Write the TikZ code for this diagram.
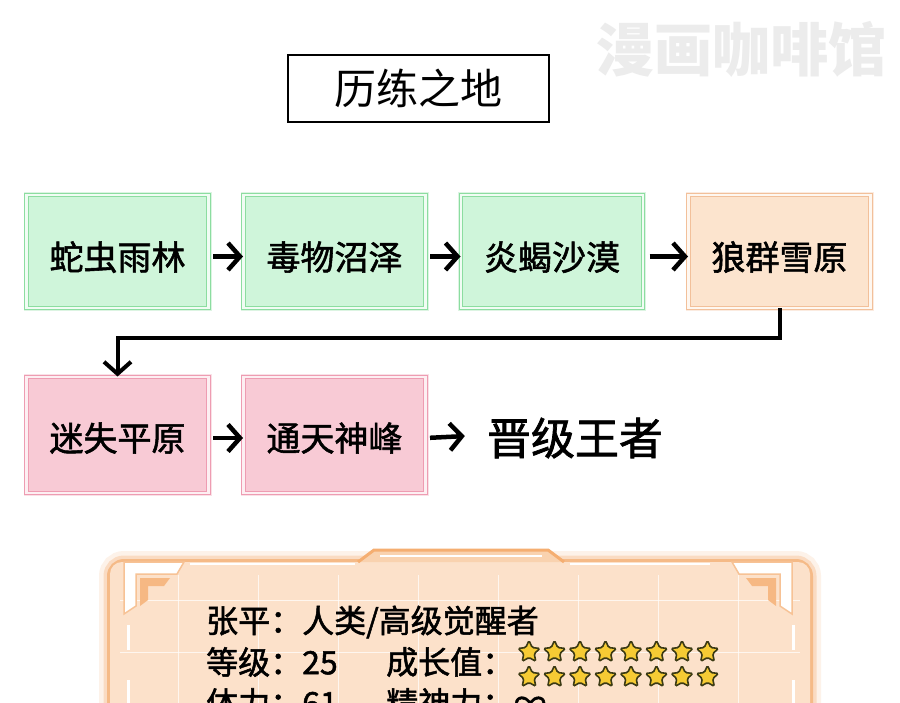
\documentclass[tikz,border=0pt]{standalone}
\usepackage{fontspec}
\setmainfont{Noto Sans CJK SC}
\newfontfamily\heavycjk[FakeBold=1.6]{Noto Sans CJK SC}
\usetikzlibrary{arrows.meta,shapes.geometric}
\definecolor{mintfill}{HTML}{CFF5DA}
\definecolor{mintline}{HTML}{8CDDA0}
\definecolor{peachfill}{HTML}{FCE4CE}
\definecolor{peachline}{HTML}{F2C09A}
\definecolor{rosefill}{HTML}{F8CAD5}
\definecolor{roseline}{HTML}{EE9CB2}
\definecolor{panelfill}{HTML}{FCE1CA}
\definecolor{panelglow}{HTML}{F29A4E}
\definecolor{starfill}{HTML}{F6CB34}
\definecolor{starline}{HTML}{3B3A14}
\definecolor{markgray}{HTML}{ECECEC}

\begin{document}
\begin{tikzpicture}[x=1pt, y=-1pt,
    stage/.style={minimum width=182pt, minimum height=113pt, line width=1pt,
                  double distance=2.5pt, inner sep=0pt, text height=41pt,
                  text depth=4pt, font=\fontsize{34}{40}\heavycjk},
    greenbox/.style={stage, fill=mintfill, draw=mintline, double=mintfill!30!white,
                     preaction={draw=mintline, line width=6pt, opacity=0.3}},
    orangebox/.style={stage, fill=peachfill, draw=peachline, double=peachfill!30!white,
                      preaction={draw=peachline, line width=6pt, opacity=0.3}},
    pinkbox/.style={stage, minimum height=116pt, text height=36pt, fill=rosefill,
                    draw=roseline, double=rosefill!30!white,
                    preaction={draw=roseline, line width=6pt, opacity=0.3}},
    arr/.style={-{Straight Barb[length=12pt, width=27pt]}, line width=4.5pt},
    paneltext/.style={anchor=west, inner sep=0pt, font=\fontsize{32}{36}\heavycjk},
    starmark/.style={star, star points=5, star point ratio=2.1, minimum size=23pt,
                     inner sep=0pt, fill=starfill, draw=starline, line width=1.6pt,
                     rounded corners=1.5pt}
  ]
  \fill[white] (0,0) rectangle (900,703);
  \useasboundingbox (0,0) rectangle (900,703);

  % Title and watermark
  \node[draw, line width=1.5pt, minimum width=261pt, minimum height=67pt,
        font=\fontsize{42}{48}\selectfont] (title) at (418.5,88.5) {历练之地};
  \node[text=markgray, inner sep=0pt,
        font=\fontsize{58}{64}\selectfont\bfseries] (mark) at (741,49) {漫画咖啡馆};

  % First row
  \node[greenbox] (jungle) at (117.5,251.5) {蛇虫雨林};
  \node[greenbox] (swamp) at (334.5,251.5) {毒物沼泽};
  \node[greenbox] (desert) at (552,251.5) {炎蝎沙漠};
  \node[orangebox] (snowfield) at (779.5,251.5) {狼群雪原};
  % Second row
  \node[pinkbox] (plain) at (117.5,435) {迷失平原};
  \node[pinkbox] (peak) at (334.5,435) {通天神峰};
  \node[inner sep=0pt, font=\fontsize{44}{50}\heavycjk] (king)
    at (575,438) {晋级王者};

  % Route
  \draw[arr, shorten <=4pt] ([yshift=-5pt]jungle.east) -- ([yshift=-5pt]swamp.west);
  \draw[arr, shorten <=4pt] ([yshift=-5pt]swamp.east) -- ([yshift=-5pt]desert.west);
  \draw[arr, shorten <=6pt] ([yshift=-5pt]desert.east) -- ([yshift=-5pt]snowfield.west);
  \coordinate (bend) at (779.5,338);
  \draw[arr, line width=4pt] (snowfield.south) -- (bend) -| (plain.north);
  \draw[arr, shorten <=4pt] ([yshift=-3pt]plain.east) -- ([yshift=-3pt]peak.west);
  \draw[arr, shorten <=4pt, shorten >=22pt] ([yshift=-3pt]peak.east)
    -- (king.west |- peak.east);

  % Status panel
  \foreach \w/\o in {22/0.12, 13/0.25, 6/0.5}
    \draw[panelglow, line width=\w pt, opacity=\o, rounded corners=14pt]
      (110,562) rectangle (810,780);
  \fill[panelfill, rounded corners=12pt] (110,562) rectangle (810,780);
  \foreach \x in {178,258,...,738}
    \draw[white, line width=1pt, opacity=0.7] (\x,575) -- (\x,703);
  \foreach \y in {600,652}
    \draw[white, line width=1pt, opacity=0.7] (120,\y) -- (800,\y);
  \draw[white, line width=2.5pt] (190,564) -- (355,564) (570,564) -- (710,564);
  \foreach \y in {625,680}
    \draw[white, line width=3pt] (128,\y) -- (128,\y+25) (793,\y) -- (793,\y+25);
  \filldraw[fill=panelglow!45!white, draw=panelglow!80!white, line width=3pt]
    (358,562) -- (374,550) -- (548,550) -- (564,562);
  \draw[white, line width=2.5pt] (380,556) -- (542,556);
  % Corner brackets
  \filldraw[fill=white, draw=panelglow!60!white, line width=1.5pt]
    (124,562) -- (184,562) -- (177,574) -- (136,574) -- (136,606) -- (124,614) -- cycle;
  \fill[panelglow!70!white] (140,578) -- (170,578) -- (164,586) -- (148,586) -- (148,600)
    -- (140,606) -- cycle;
  \filldraw[fill=white, draw=panelglow!60!white, line width=1.5pt]
    (792,562) -- (732,562) -- (739,574) -- (780,574) -- (780,606) -- (792,614) -- cycle;
  \fill[panelglow!70!white] (776,578) -- (746,578) -- (752,586) -- (768,586) -- (768,600)
    -- (776,606) -- cycle;

  % Panel text
  \node[paneltext] (hero) at (206,622) {张平：人类/高级觉醒者};
  \node[paneltext] (level) at (206,662) {等级：25};
  \node[paneltext] (growth) at (386,662) {成长值：};
  \node[paneltext] (body) at (206,703) {体力：61};
  \node[paneltext] (mind) at (386,703) {精神力：∞};
  \foreach \i in {0,...,7}{
    \node[starmark] (upper\i) at (529+25.5*\i,652) {};
    \node[starmark] (lower\i) at (529+25.5*\i,677) {};
  }
\end{tikzpicture}
\end{document}
